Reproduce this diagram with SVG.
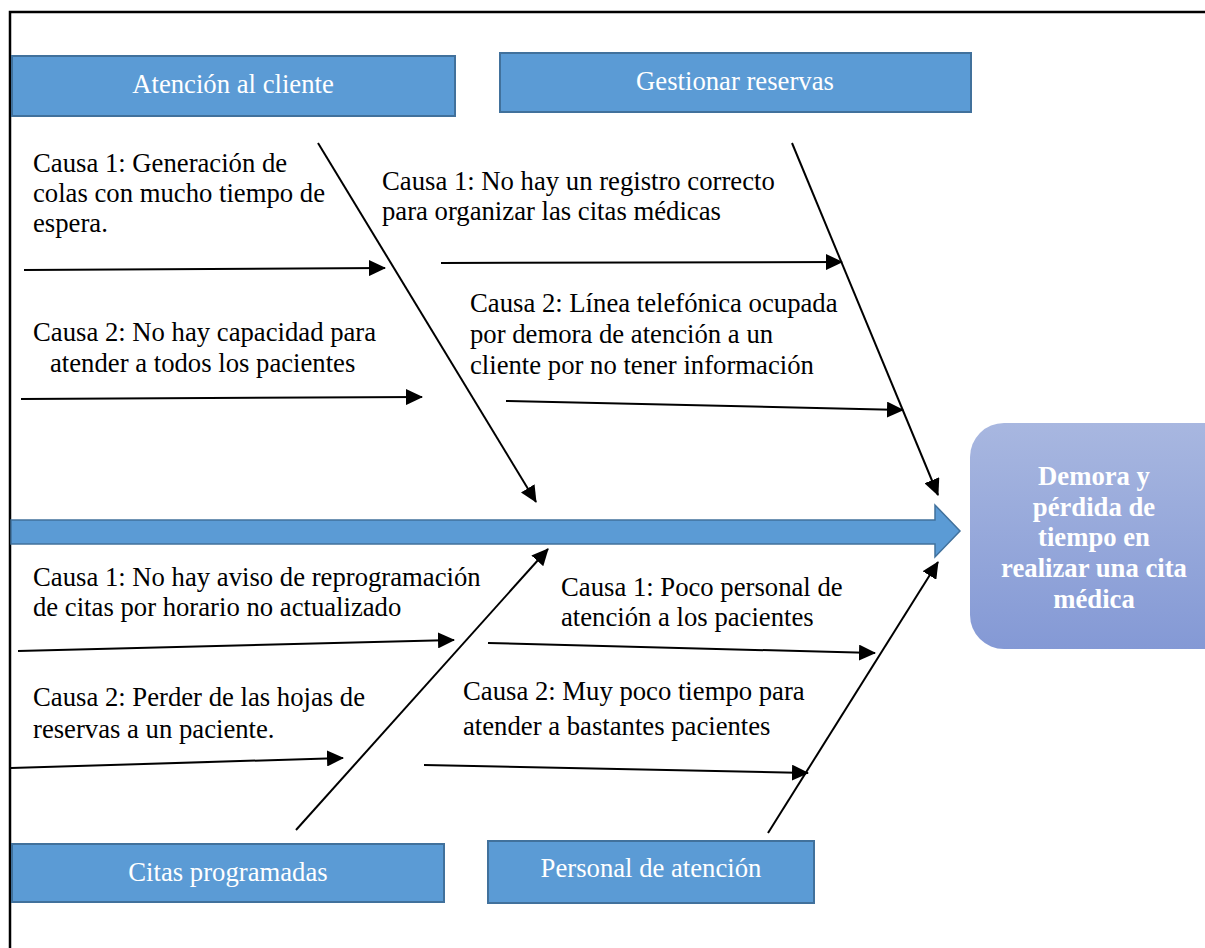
<svg xmlns="http://www.w3.org/2000/svg" width="1205" height="948" viewBox="0 0 1205 948">
<style>
.box{fill:#5B9BD5;stroke:#41719C;stroke-width:2}
.bl{font-family:'Liberation Serif','Times New Roman',Tinos,'DejaVu Serif',serif;font-size:26.7px;fill:#FFFFFF;text-anchor:middle}
.t{font-family:'Liberation Serif','Times New Roman',Tinos,'DejaVu Serif',serif;font-size:26.7px;fill:#000000}
.out{font-family:'Liberation Serif','Times New Roman',Tinos,'DejaVu Serif',serif;font-size:26.7px;font-weight:bold;fill:#FFFFFF;text-anchor:middle}
.c{stroke:#000;stroke-width:2;fill:none;marker-end:url(#ah)}
</style>
<defs>
<marker id="ah" markerUnits="userSpaceOnUse" markerWidth="18" markerHeight="16" refX="16" refY="8" orient="auto">
<path d="M0,0 L17,8 L0,16 Z" fill="#000"/>
</marker>
<linearGradient id="g" x1="0" y1="0" x2="0" y2="1">
<stop offset="0" stop-color="#A8B7E0"/>
<stop offset="1" stop-color="#8499D5"/>
</linearGradient>
</defs>
<rect width="1205" height="948" fill="#FFFFFF"/>
<g id="frame">
<path d="M10,948 V12 H1205" fill="none" stroke="#000" stroke-width="2.5"/>
</g>
<g id="spine">
<polygon points="11,520 935,520 935,505 960,531 935,557 935,544 11,544" fill="#5B9BD5" stroke="#41719C" stroke-width="1.5"/>
</g>
<g id="node-atencion">
<rect class="box" x="12" y="56" width="443" height="60"/>
<text class="bl" x="233" y="93">Atención al cliente</text>
</g>
<g id="node-gestionar">
<rect class="box" x="500" y="53" width="471" height="59"/>
<text class="bl" x="735" y="90">Gestionar reservas</text>
</g>
<g id="node-citas">
<rect class="box" x="12" y="844" width="432" height="58"/>
<text class="bl" x="228" y="881">Citas programadas</text>
</g>
<g id="node-personal">
<rect class="box" x="488" y="841" width="326" height="62"/>
<text class="bl" x="651" y="877">Personal de atención</text>
</g>
<g id="node-efecto">
<rect x="970" y="423" width="270" height="226" rx="34" ry="34" fill="url(#g)"/>
<text class="out" x="1094" y="485">Demora y</text>
<text class="out" x="1094" y="516">pérdida de</text>
<text class="out" x="1094" y="546">tiempo en</text>
<text class="out" x="1094" y="577">realizar una cita</text>
<text class="out" x="1094" y="608">médica</text>
</g>
<g id="causes">
<text class="t" x="33" y="172">Causa 1: Generación de</text>
<text class="t" x="33" y="202">colas con mucho tiempo de</text>
<text class="t" x="33" y="232">espera.</text>
<text class="t" x="33" y="341">Causa 2: No hay capacidad para</text>
<text class="t" x="50" y="372">atender a todos los pacientes</text>
<text class="t" x="382" y="190">Causa 1: No hay un registro correcto</text>
<text class="t" x="382" y="220">para organizar las citas médicas</text>
<text class="t" x="470" y="312">Causa 2: Línea telefónica ocupada</text>
<text class="t" x="470" y="343">por demora de atención a un</text>
<text class="t" x="470" y="374">cliente por no tener información</text>
<text class="t" x="33" y="586">Causa 1: No hay aviso de reprogramación</text>
<text class="t" x="33" y="616">de citas por horario no actualizado</text>
<text class="t" x="33" y="706">Causa 2: Perder de las hojas de</text>
<text class="t" x="33" y="738">reservas a un paciente.</text>
<text class="t" x="561" y="596">Causa 1: Poco personal de</text>
<text class="t" x="561" y="626">atención a los pacientes</text>
<text class="t" x="463" y="700">Causa 2: Muy poco tiempo para</text>
<text class="t" x="463" y="735">atender a bastantes pacientes</text>
</g>
<g id="connectors">
<line class="c" x1="318" y1="143" x2="536" y2="502"/>
<line class="c" x1="792" y1="143" x2="938" y2="495"/>
<line class="c" x1="296" y1="830" x2="548" y2="549"/>
<line class="c" x1="768" y1="833" x2="938" y2="562"/>
<line class="c" x1="24" y1="270" x2="385" y2="268"/>
<line class="c" x1="21" y1="399" x2="422" y2="397"/>
<line class="c" x1="441" y1="263" x2="842" y2="262"/>
<line class="c" x1="506" y1="401" x2="903" y2="410"/>
<line class="c" x1="18" y1="651" x2="454" y2="640"/>
<line class="c" x1="11" y1="768" x2="343" y2="758"/>
<line class="c" x1="488" y1="643" x2="875" y2="653"/>
<line class="c" x1="424" y1="765" x2="808" y2="773"/>
</g>
</svg>
